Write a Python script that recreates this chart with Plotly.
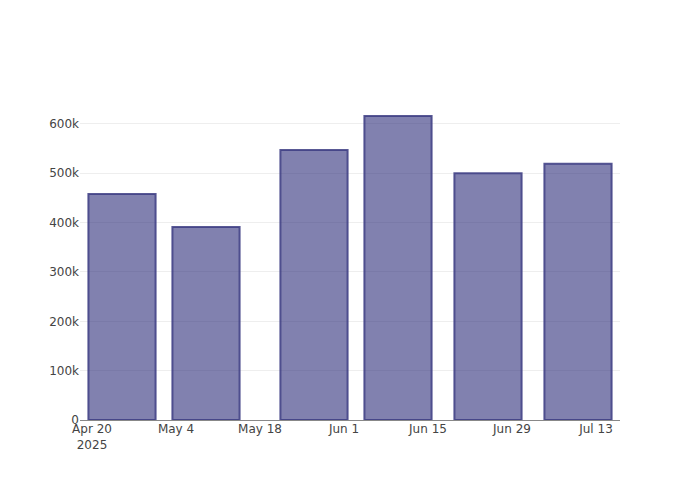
import plotly.graph_objects as go

dates = ["2025-04-25", "2025-05-09", "2025-05-27", "2025-06-10", "2025-06-25", "2025-07-10"]
values = [458000, 391000, 547000, 616000, 500000, 519000]

fig = go.Figure(
    go.Bar(
        x=dates,
        y=values,
        marker=dict(
            color="rgba(45,45,122,0.6)",
            line=dict(color="rgba(60,60,130,0.85)", width=2),
        ),
    )
)

fig.update_layout(
    width=700,
    height=500,
    margin=dict(l=72, r=88, t=92, b=88),
    template="plotly_white",
    plot_bgcolor="white",
    paper_bgcolor="white",
    font=dict(family="DejaVu Sans", color="#444", size=12),
    showlegend=False,
)
fig.update_xaxes(
    type="date",
    showgrid=False,
    showline=False,
    tick0="2025-04-20",
    dtick=14 * 86400000,
    ticks="",
)
fig.update_yaxes(
    showgrid=True,
    gridcolor="#eeeeee",
    zeroline=True,
    zerolinecolor="#888",
    zerolinewidth=1,
    tickformat="~s",
    dtick=100000,
)

fig.write_html("out.html")
